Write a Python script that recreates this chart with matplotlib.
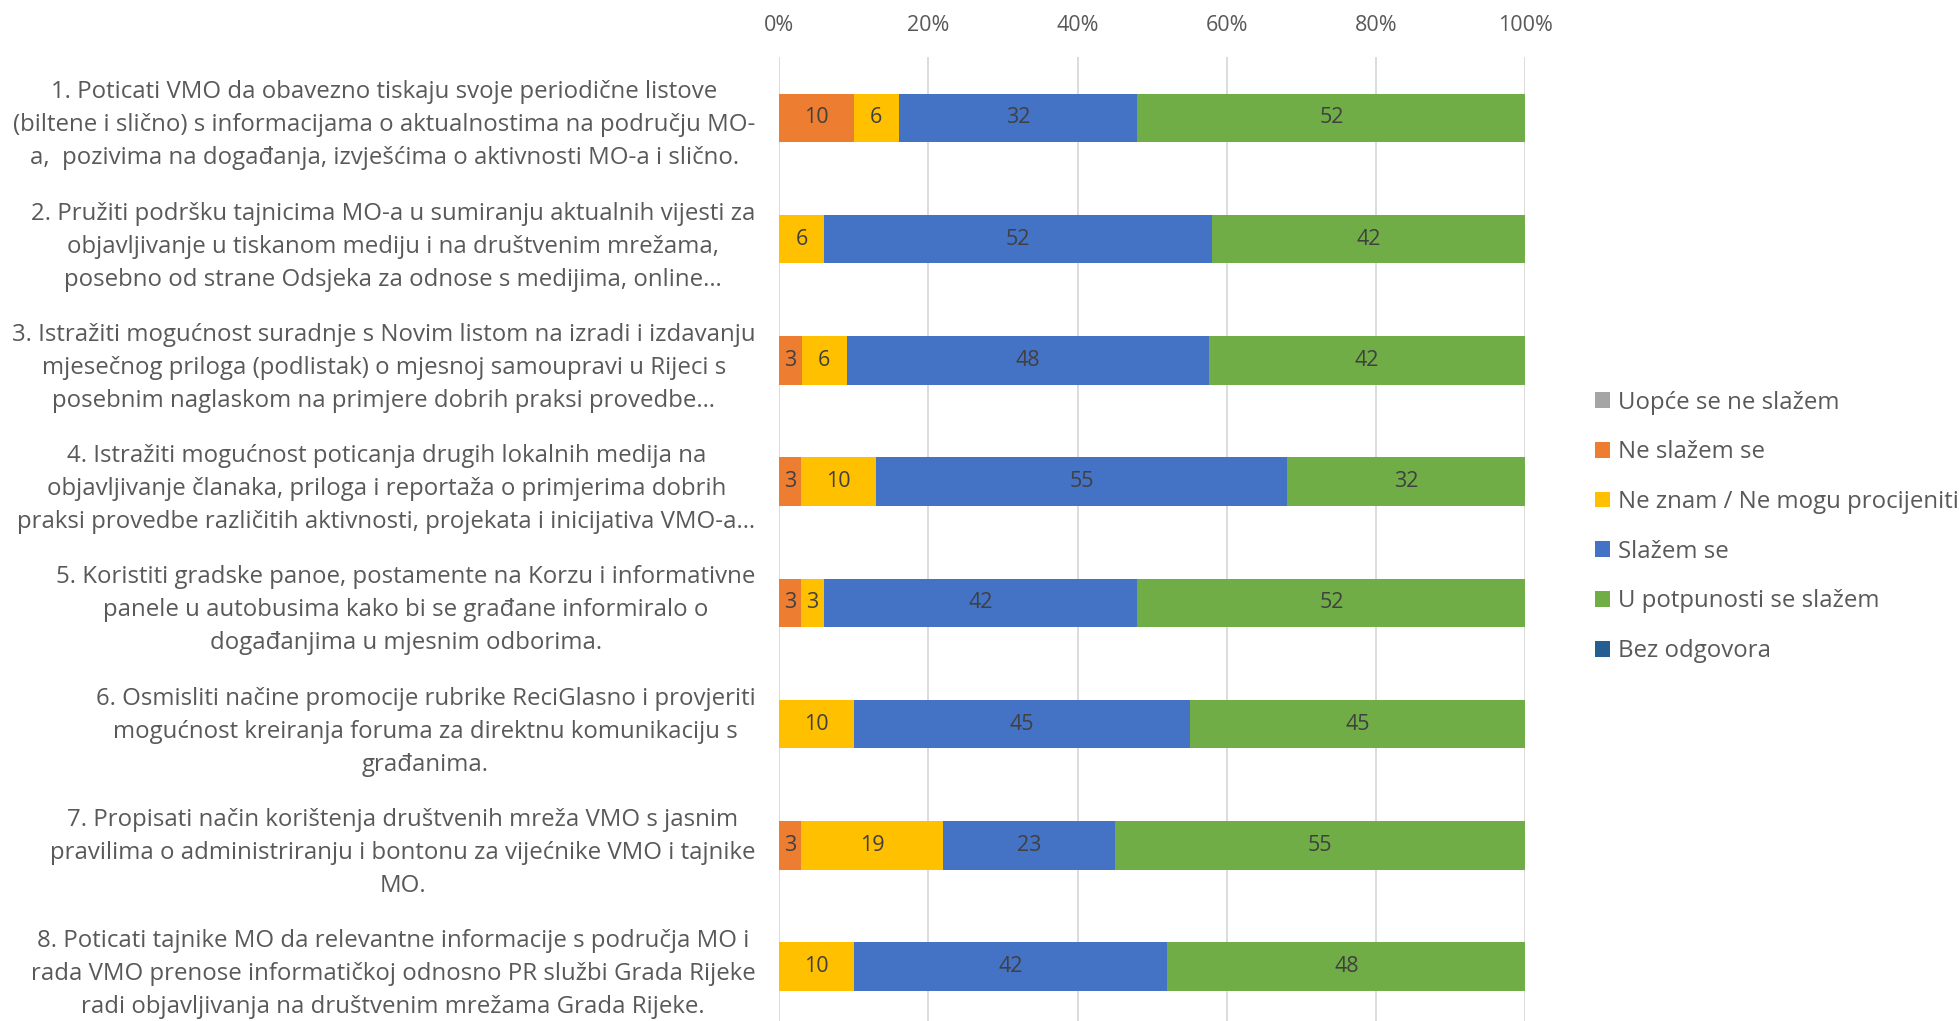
import matplotlib
matplotlib.use("Agg")
import matplotlib.pyplot as plt
import numpy as np

plt.rcParams['font.family'] = ['Open Sans', 'DejaVu Sans']

# Kategorije (pitanja), od vrha prema dnu
categories = [
    "1. Poticati VMO da obavezno tiskaju svoje periodične listove\n(biltene i slično) s informacijama o aktualnostima na području MO-\na,  pozivima na događanja, izvješćima o aktivnosti MO-a i slično.",
    "2. Pružiti podršku tajnicima MO-a u sumiranju aktualnih vijesti za\nobjavljivanje u tiskanom mediju i na društvenim mrežama,\nposebno od strane Odsjeka za odnose s medijima, online…",
    "3. Istražiti mogućnost suradnje s Novim listom na izradi i izdavanju\nmjesečnog priloga (podlistak) o mjesnoj samoupravi u Rijeci s\nposebnim naglaskom na primjere dobrih praksi provedbe…",
    "4. Istražiti mogućnost poticanja drugih lokalnih medija na\nobjavljivanje članaka, priloga i reportaža o primjerima dobrih\npraksi provedbe različitih aktivnosti, projekata i inicijativa VMO-a…",
    "5. Koristiti gradske panoe, postamente na Korzu i informativne\npanele u autobusima kako bi se građane informiralo o\ndogađanjima u mjesnim odborima.",
    "6. Osmisliti načine promocije rubrike ReciGlasno i provjeriti\nmogućnost kreiranja foruma za direktnu komunikaciju s\ngrađanima.",
    "7. Propisati način korištenja društvenih mreža VMO s jasnim\npravilima o administriranju i bontonu za vijećnike VMO i tajnike\nMO.",
    "8. Poticati tajnike MO da relevantne informacije s područja MO i\nrada VMO prenose informatičkoj odnosno PR službi Grada Rijeke\nradi objavljivanja na društvenim mrežama Grada Rijeke.",
]

series_names = ["Uopće se ne slažem", "Ne slažem se", "Ne znam / Ne mogu procijeniti",
                "Slažem se", "U potpunosti se slažem", "Bez odgovora"]
series_colors = ["#A5A5A5", "#ED7D31", "#FFC000", "#4472C4", "#70AD47", "#255E91"]

# Postoci po pitanju (kako su ispisani na stupcima)
uopce_ne = [0, 0, 0, 0, 0, 0, 0, 0]
ne_slazem = [10, 0, 3, 3, 3, 0, 3, 0]
ne_znam = [6, 6, 6, 10, 3, 10, 19, 10]
slazem = [32, 52, 48, 55, 42, 45, 23, 42]
potpuno = [52, 42, 42, 32, 52, 45, 55, 48]
bez_odg = [0, 0, 0, 0, 0, 0, 0, 0]

xticks = [0, 20, 40, 60, 80, 100]
xtick_labels = ["0%", "20%", "40%", "60%", "80%", "100%"]

data = np.array([uopce_ne, ne_slazem, ne_znam, slazem, potpuno, bez_odg], dtype=float)
shares = data / data.sum(axis=0) * 100  # 100% stacked

fig = plt.figure(figsize=(19.59, 10.21), dpi=100)
ax = fig.add_axes([0.3977, -0.006, 0.381, 0.950])

y = np.arange(len(categories))
left = np.zeros(len(categories))
for name, color, share, raw in zip(series_names, series_colors, shares, data):
    ax.barh(y, share, height=0.4, left=left, color=color, label=name, zorder=3)
    for yi, l, s, v in zip(y, left, share, raw):
        if v > 0:
            ax.text(l + s / 2, yi, f"{v:.0f}", ha='center', va='center',
                    fontsize=15.5, color='#404040', zorder=4)
    left += share

ax.set_xlim(0, 100)
ax.set_ylim(len(categories) - 0.5, -0.5)
ax.set_xticks(xticks)
ax.set_xticklabels(xtick_labels)
ax.xaxis.tick_top()
ax.tick_params(axis='x', length=0, pad=15, labelsize=15.5, labelcolor='#595959')
ax.set_yticks(y)
ax.set_yticklabels(categories, multialignment='center', linespacing=1.5)
ax.tick_params(axis='y', length=0, pad=17, labelsize=17.3, labelcolor='#595959')

ax.grid(axis='x', color='#D9D9D9', linewidth=1.3, zorder=0)
ax.set_axisbelow(True)
for sp in ax.spines.values():
    sp.set_visible(False)

handles, labels = ax.get_legend_handles_labels()
leg = fig.legend(handles, labels, loc='center left', bbox_to_anchor=(0.814, 0.484),
                 frameon=False, fontsize=17.3, handlelength=0.63, handleheight=0.63,
                 handletextpad=0.35, labelspacing=1.07, borderpad=0, borderaxespad=0)
for t in leg.get_texts():
    t.set_color('#595959')

plt.savefig("out.png", dpi=100)
